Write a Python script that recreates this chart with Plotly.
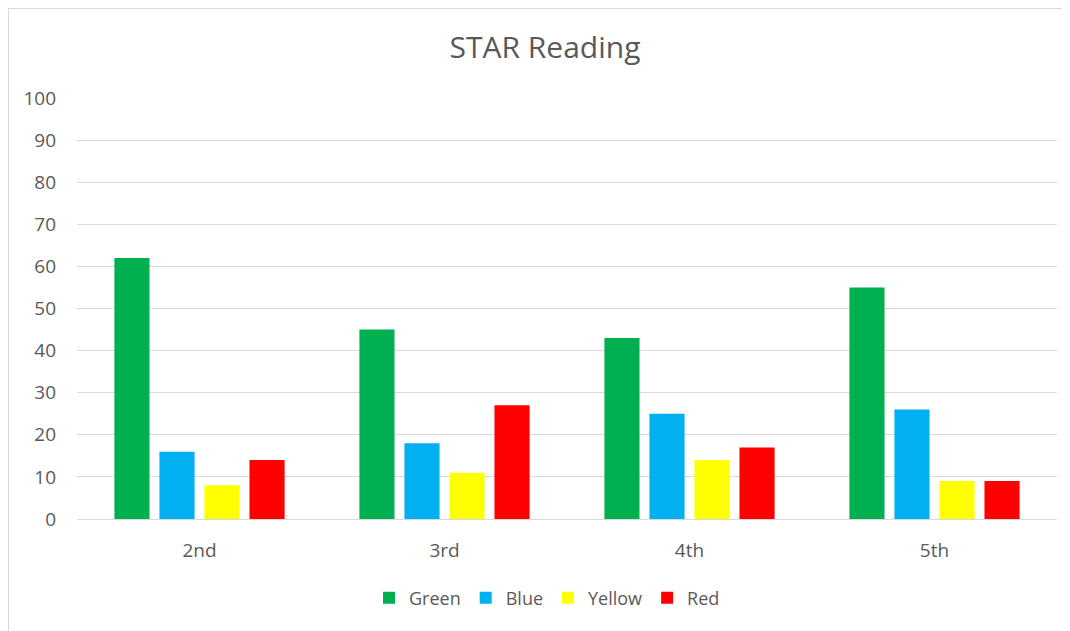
"""STAR Reading grouped bar chart."""

import plotly.graph_objects as go

GRADES = ["2nd", "3rd", "4th", "5th"]
GREEN = [62, 45, 43, 55]
BLUE = [16, 18, 25, 26]
YELLOW = [8, 11, 14, 9]
RED = [14, 27, 17, 9]

SERIES = [
    ("Green", GREEN, "#00B050"),
    ("Blue", BLUE, "#00B0F0"),
    ("Yellow", YELLOW, "#FFFF00"),
    ("Red", RED, "#FF0000"),
]

TEXT_COLOR = "#595959"
GRID_COLOR = "#D9D9D9"
FONT = "Open Sans, sans-serif"

fig = go.Figure()
for name, values, color in SERIES:
    fig.add_trace(
        go.Bar(
            x=GRADES,
            y=values,
            name=name,
            marker={"color": color, "line": {"width": 0}},
        )
    )

# page body has an 8px margin, so the figure starts at (8, 8)
W, H = 1062, 623
L, R, T, B = 69, 13, 90, 112
pw, ph = W - L - R, H - T - B

fig.update_layout(
    width=W,
    height=H,
    margin={"l": L, "r": R, "t": T, "b": B},
    paper_bgcolor="#FFFFFF",
    plot_bgcolor="#FFFFFF",
    font={"family": FONT, "color": TEXT_COLOR, "size": 19},
    barmode="group",
    bargap=0.265,
    bargroupgap=0.22,
    title={
        "text": "STAR Reading",
        "x": (545 - 8) / W,
        "xanchor": "center",
        "y": 1 - 39 / H,
        "yanchor": "middle",
        "font": {"size": 30, "color": TEXT_COLOR, "family": FONT},
    },
    legend={
        "orientation": "h",
        "x": 0.5 - 20 / pw,
        "xanchor": "center",
        "y": -(598 - 519) / ph,
        "yanchor": "middle",
        "font": {"size": 18, "color": TEXT_COLOR},
        "itemwidth": 30,
        "traceorder": "normal",
    },
    showlegend=True,
)

fig.update_yaxes(
    range=[0, 100],
    dtick=10,
    showgrid=True,
    gridcolor=GRID_COLOR,
    gridwidth=1,
    zeroline=False,
    showline=False,
    ticks="",
    ticklabelstandoff=20,
    tickfont={"size": 19, "color": TEXT_COLOR},
)
fig.update_xaxes(
    showline=True,
    linecolor=GRID_COLOR,
    linewidth=1,
    ticks="",
    ticklabelstandoff=14,
    tickfont={"size": 19, "color": TEXT_COLOR},
)

# outer chart border (top and left visible; right/bottom fall outside the frame)
fig.add_shape(
    type="rect",
    xref="paper",
    yref="paper",
    x0=-L / pw,
    x1=(W + 20 - L) / pw,
    y0=-(B + 20) / ph,
    y1=(ph + T) / ph,
    line={"color": GRID_COLOR, "width": 2},
    fillcolor="rgba(0,0,0,0)",
    layer="below",
)

fig.write_html("out.html")
